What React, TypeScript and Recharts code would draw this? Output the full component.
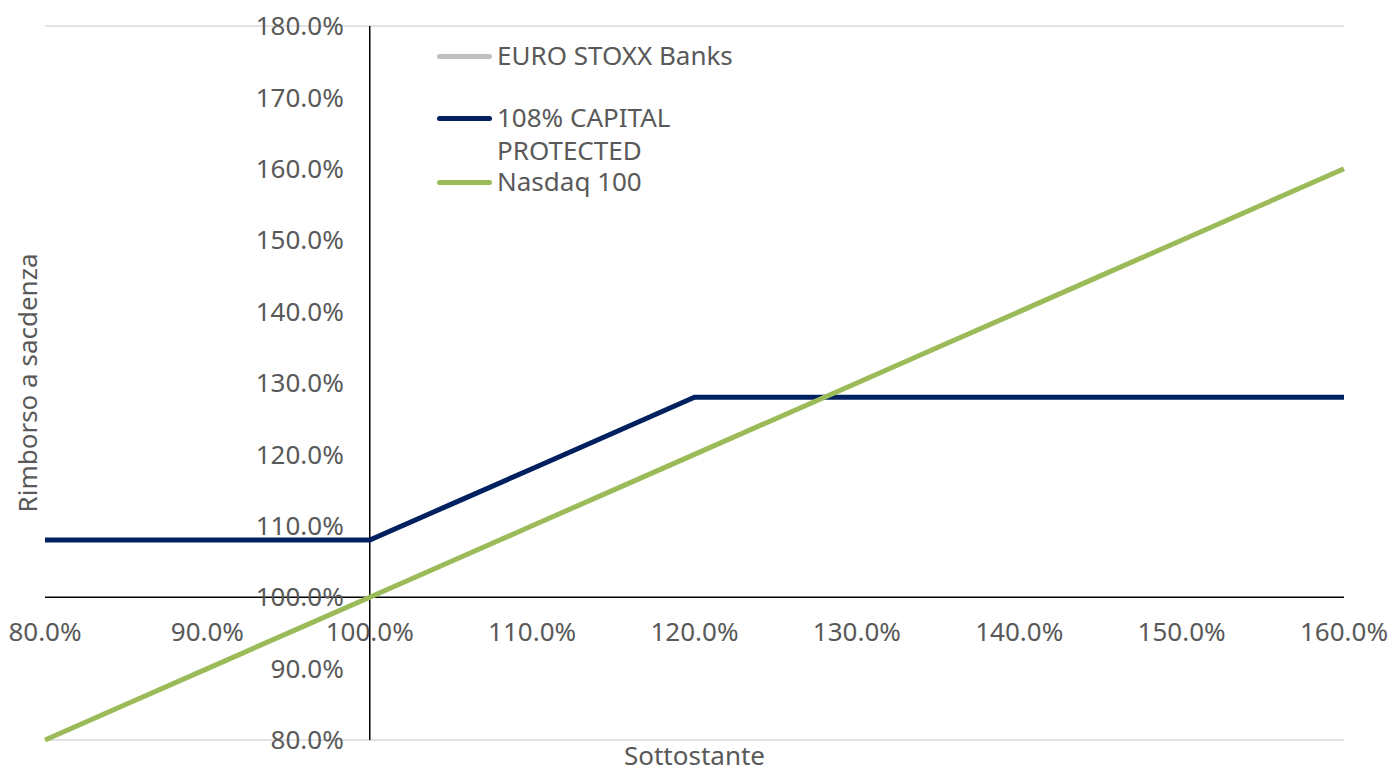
import React from "react";
import { LineChart, Line, XAxis, YAxis, CartesianGrid, ReferenceLine, ReferenceDot, Legend } from "recharts";

const UNDERLYING = [80, 85, 90, 95, 100, 105, 110, 115, 120, 125, 130, 135, 140, 145, 150, 155, 160];
const EURO_STOXX_BANKS: (number | null)[] = [null, null, null, null, null, null, null, null, null, null, null, null, null, null, null, null, null];
const CAPITAL_PROTECTED = [108, 108, 108, 108, 108, 113, 118, 123, 128, 128, 128, 128, 128, 128, 128, 128, 128];
const NASDAQ_100 = [80, 85, 90, 95, 100, 105, 110, 115, 120, 125, 130, 135, 140, 145, 150, 155, 160];

const X_TICKS = [80, 90, 100, 110, 120, 130, 140, 150, 160];
const Y_TICKS = [80, 90, 100, 110, 120, 130, 140, 150, 160, 170, 180];

const SERIES = [
  { key: "euro", name: "EURO STOXX Banks", color: "#BFBFBF" },
  { key: "capital", name: "108% CAPITAL PROTECTED", color: "#002060" },
  { key: "nasdaq", name: "Nasdaq 100", color: "#9BBB59" },
];

const FONT = "'Noto Sans', 'Liberation Sans', Arial, sans-serif";
const TEXT = "#595959";
const FS = 26;

const data = UNDERLYING.map((x, i) => ({
  x,
  euro: EURO_STOXX_BANKS[i],
  capital: CAPITAL_PROTECTED[i],
  nasdaq: NASDAQ_100[i],
}));

const pct = (v: number) => `${v.toFixed(1)}%`;

function LegendBox() {
  return (
    <div style={{ fontFamily: FONT, fontSize: FS, color: TEXT, lineHeight: "33px" }}>
      {SERIES.map((s, i) => (
        <div
          key={s.key}
          style={{ display: "flex", alignItems: "flex-start", marginTop: i === 1 ? 29 : i === 2 ? -2 : 0 }}
        >
          <div style={{ width: 55, height: 5, borderRadius: 3, background: s.color, marginTop: 15, marginRight: 5 }} />
          <div style={{ width: 260 }}>{s.name}</div>
        </div>
      ))}
    </div>
  );
}

export default function App() {
  return (
    <div style={{ position: "absolute", top: 0, left: 0 }}>
      <LineChart width={1393} height={771} data={data} margin={{ top: 26, right: 49, left: 0, bottom: 0 }}>
        <CartesianGrid vertical={false} stroke="#D9D9D9" strokeWidth={1.5} />
        <XAxis
          dataKey="x"
          type="number"
          domain={[80, 160]}
          ticks={X_TICKS}
          height={31}
          tick={false}
          axisLine={false}
          tickLine={false}
          label={{ value: "Sottostante", position: "insideBottom", offset: 6, fill: TEXT, fontSize: FS, fontFamily: FONT }}
        />
        <YAxis
          type="number"
          domain={[80, 180]}
          ticks={Y_TICKS}
          width={45}
          tick={false}
          axisLine={false}
          tickLine={false}
          label={{ value: "Rimborso a sacdenza", angle: -90, position: "center", dx: 5, fill: TEXT, fontSize: FS, fontFamily: FONT }}
        />
        <ReferenceLine y={100} stroke="#000000" strokeWidth={1.5} />
        <ReferenceLine x={100} stroke="#000000" strokeWidth={1.5} />
        {X_TICKS.map((t) => (
          <ReferenceDot
            key={`xt${t}`}
            x={t}
            y={100}
            r={0}
            fill="none"
            stroke="none"
            label={{ value: pct(t), position: "bottom", offset: 25, fill: TEXT, fontSize: FS, fontFamily: FONT }}
          />
        ))}
        {Y_TICKS.map((t) => (
          <ReferenceDot
            key={`yt${t}`}
            x={100}
            y={t}
            r={0}
            fill="none"
            stroke="none"
            label={{ value: pct(t), position: "left", offset: 26, fill: TEXT, fontSize: FS, fontFamily: FONT }}
          />
        ))}
        <Line dataKey="euro" name="EURO STOXX Banks" stroke="#BFBFBF" strokeWidth={5} dot={false} isAnimationActive={false} />
        <Line dataKey="capital" name="108% CAPITAL PROTECTED" stroke="#002060" strokeWidth={5} dot={false} isAnimationActive={false} />
        <Line dataKey="nasdaq" name="Nasdaq 100" stroke="#9BBB59" strokeWidth={5} dot={false} isAnimationActive={false} />
        <Legend
          layout="vertical"
          align="center"
          verticalAlign="middle"
          content={<LegendBox />}
          wrapperStyle={{ position: "absolute", top: 39, left: 437, width: 330 }}
        />
      </LineChart>
    </div>
  );
}
